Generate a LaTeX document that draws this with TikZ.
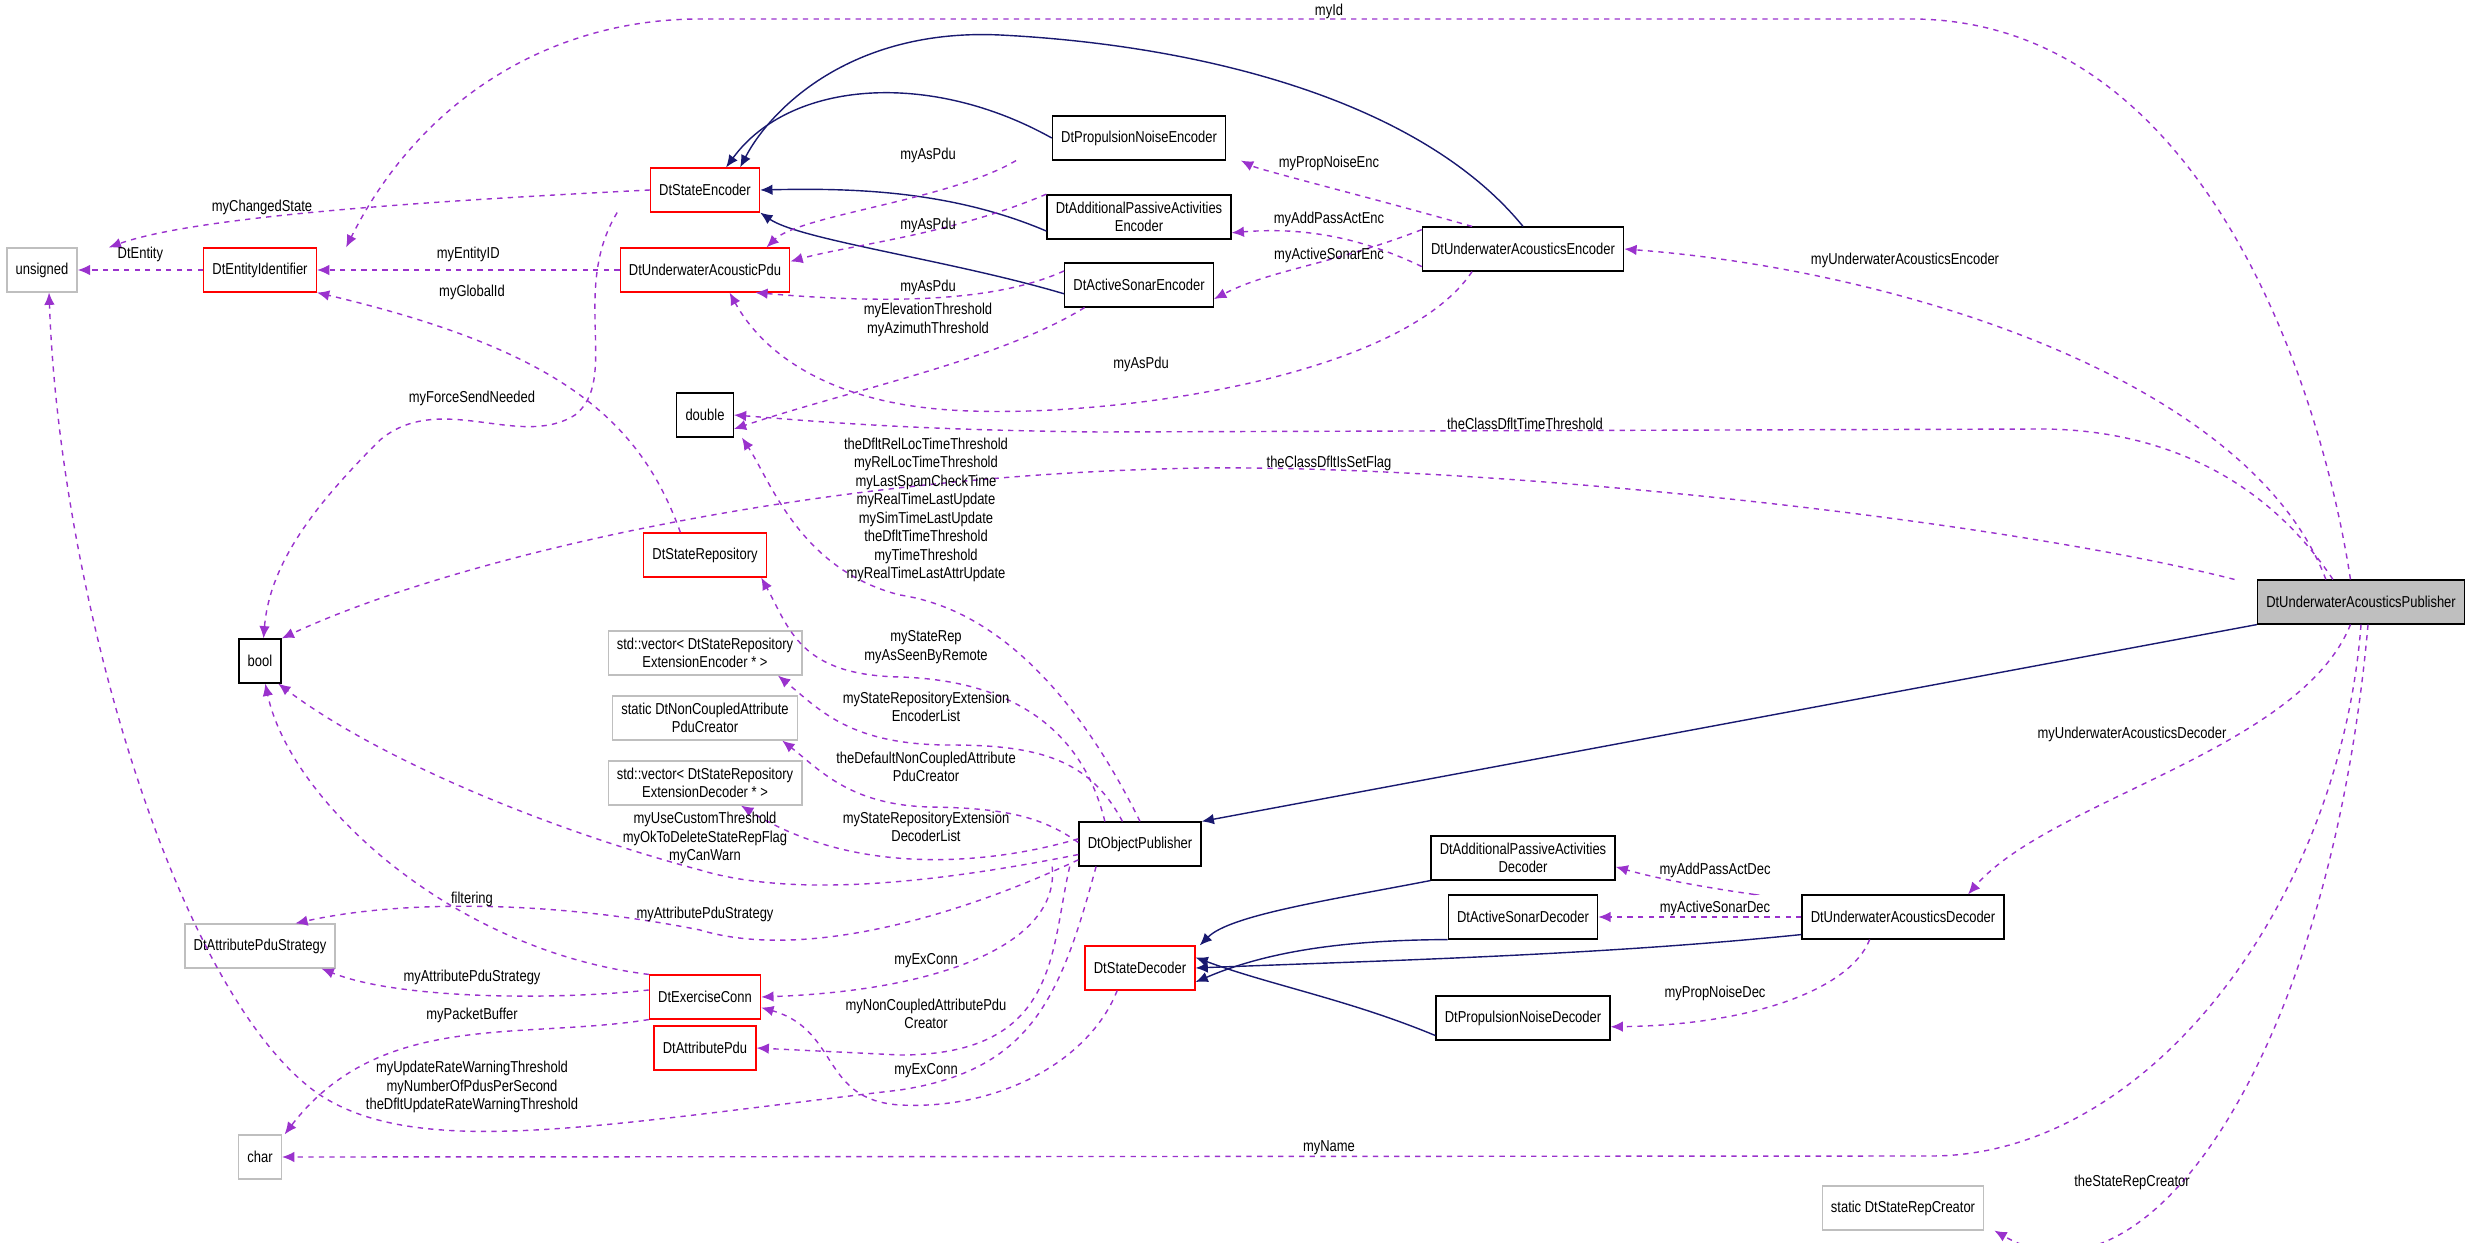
\documentclass[tikz,border=0pt]{standalone}
\usepackage{fontspec}
\setmainfont{Liberation Sans}[FakeStretch=0.82]
\usetikzlibrary{arrows.meta,positioning}
\definecolor{usecol}{HTML}{9A32CD}
\definecolor{inhcol}{HTML}{191970}
\definecolor{extcol}{HTML}{BFBFBF}
\tikzset{
    boxsty/.style={rectangle,minimum height=25,inner xsep=5,inner ysep=2,align=center,font=\fontsize{9}{10.5}\selectfont,line width=0.7pt},
    clssty/.style={boxsty,draw=black},
    redsty/.style={boxsty,draw=red},
    extsty/.style={boxsty,draw=extcol},
    pubsty/.style={boxsty,draw=black,fill=extcol},
    usesty/.style={draw=usecol,line width=0.8pt,dash pattern=on 3pt off 3pt,-{Latex[length=7pt,width=6pt]}},
    inhsty/.style={draw=inhcol,line width=0.8pt,-{Latex[length=7pt,width=6pt]}},
    lblsty/.style={align=center,font=\fontsize{9}{10.5}\selectfont,inner sep=0pt},
}
\begin{document}
\begin{tikzpicture}[x=0.02cm,y=-0.02cm]
  \useasboundingbox (0,0) rectangle (2475,1243);
  % classes
  \node[pubsty] (pub) at (2361,602) {DtUnderwaterAcousticsPublisher};
  \node[extsty] (uns) at (42,270) {unsigned};
  \node[redsty] (eid) at (260,270) {DtEntityIdentifier};
  \node[redsty] (sen) at (705,190) {DtStateEncoder};
  \node[redsty] (uap) at (705,270) {DtUnderwaterAcousticPdu};
  \node[clssty] (dbl) at (705,415) {double};
  \node[redsty] (srep) at (705,555) {DtStateRepository};
  \node[clssty] (pne) at (1139,138) {DtPropulsionNoiseEncoder};
  \node[clssty] (apae) at (1139,217) {DtAdditionalPassiveActivities\\Encoder};
  \node[clssty] (ase) at (1139,285) {DtActiveSonarEncoder};
  \node[clssty] (uae) at (1523,249) {DtUnderwaterAcousticsEncoder};
  \node[clssty] (bool) at (260,661) {bool};
  \node[extsty] (venc) at (705,653) {std::vector\textless{} DtStateRepository\\ExtensionEncoder * \textgreater};
  \node[extsty] (ncap) at (705,718) {static DtNonCoupledAttribute\\PduCreator};
  \node[extsty] (vdec) at (705,783) {std::vector\textless{} DtStateRepository\\ExtensionDecoder * \textgreater};
  \node[extsty] (aps) at (260,946) {DtAttributePduStrategy};
  \node[redsty] (exc) at (705,997) {DtExerciseConn};
  \node[redsty] (apdu) at (705,1048) {DtAttributePdu};
  \node[extsty] (chr) at (260,1157) {char};
  \node[clssty] (opub) at (1140,844) {DtObjectPublisher};
  \node[redsty] (sdec) at (1140,968) {DtStateDecoder};
  \node[clssty] (apad) at (1523,858) {DtAdditionalPassiveActivities\\Decoder};
  \node[clssty] (asd) at (1523,917) {DtActiveSonarDecoder};
  \node[clssty] (uad) at (1903,917) {DtUnderwaterAcousticsDecoder};
  \node[clssty] (pnd) at (1523,1018) {DtPropulsionNoiseDecoder};
  \node[extsty] (src) at (1903,1208) {static DtStateRepCreator};

  % inheritance
  \draw[inhsty] (pub.south west) -- (opub.north east);
  \draw[inhsty] (uae.north) .. controls (1420,100) and (1200,45) .. (1000,35) .. controls (850,28) and (770,110) .. ([xshift=20]sen.north);
  \draw[inhsty] (pne.west) .. controls (930,70) and (790,80) .. ([xshift=12]sen.north);
  \draw[inhsty] ([yshift=-8]apae.west) .. controls (950,190) and (850,188) .. (sen.east);
  \draw[inhsty] ([yshift=-5]ase.west) .. controls (950,260) and (800,240) .. (sen.south east);
  \draw[inhsty] (apad.south west) .. controls (1330,900) and (1230,915) .. ([xshift=34]sdec.north);
  \draw[inhsty] (asd.south west) .. controls (1350,940) and (1270,950) .. ([yshift=-8]sdec.east);
  \draw[inhsty] ([yshift=-10]uad.west) .. controls (1600,955) and (1400,960) .. (sdec.east);
  \draw[inhsty] ([yshift=-10]pnd.west) .. controls (1350,1000) and (1270,985) .. ([yshift=6]sdec.east);

  % publisher members
  \draw[usesty] ([xshift=-6]pub.north) .. controls (2320,380) and (2200,20) .. (1912,19) -- (700,19) .. controls (550,19) and (420,100) .. ([xshift=49]eid.north);
  \draw[usesty] ([xshift=-20]pub.north) .. controls (2250,380) and (1900,270) .. (uae.east);
  \draw[usesty] ([xshift=-16]pub.north) .. controls (2260,470) and (2150,429) .. (2040,429) -- (1100,432) .. controls (900,430) and (800,420) .. (dbl.east);
  \draw[usesty] ([xshift=-72]pub.north) .. controls (2000,520) and (1500,465) .. (1200,468) .. controls (800,475) and (450,560) .. (bool.north east);
  \draw[usesty] ([xshift=-6]pub.south) .. controls (2300,750) and (2050,800) .. ([xshift=37]uad.north);
  \draw[usesty] (pub.south) .. controls (2340,900) and (2150,1156) .. (1931,1156) -- (chr.east);
  \draw[usesty] ([xshift=4]pub.south) .. controls (2330,1050) and (2150,1320) .. ([xshift=52]src.south);

  % encoder members
  \draw[usesty] ([xshift=-29]uae.north) .. controls (1380,200) and (1260,170) .. ([xshift=58]pne.south);
  \draw[usesty] ([yshift=-10]uae.west) .. controls (1350,232) and (1290,228) .. ([yshift=-9]apae.east);
  \draw[usesty] ([yshift=11]uae.west) .. controls (1330,265) and (1270,270) .. ([yshift=-8]ase.east);
  \draw[usesty] ([xshift=-29]uae.south) .. controls (1400,380) and (1100,420) .. (950,410) .. controls (800,400) and (750,330) .. ([xshift=14]uap.south);
  \draw[usesty] ([xshift=-70]pne.south) .. controls (950,200) and (800,215) .. ([xshift=35]uap.north);
  \draw[usesty] ([yshift=13]apae.west) .. controls (950,235) and (850,245) .. ([yshift=-8]uap.north east);
  \draw[usesty] ([yshift=8]ase.west) .. controls (1000,300) and (900,305) .. ([xshift=-20]uap.south east);
  \draw[usesty] ([xshift=-31]ase.south) .. controls (1000,360) and (850,390) .. ([yshift=-8]dbl.east);
  \draw[usesty] (sen.west) .. controls (450,200) and (200,215) .. ([xshift=38]uns.north);
  \draw[usesty] ([xshift=-50]sen.south) .. controls (570,290) and (620,380) .. (575,415) .. controls (520,450) and (440,390) .. (380,440) .. controls (320,500) and (270,560) .. ([xshift=2]bool.north);
  \draw[usesty] (uap.west) -- (eid.east) node[lblsty,pos=0.5,above=4pt] (l_eid) {myEntityID};
  \draw[usesty] (eid.west) -- (uns.east) node[lblsty,pos=0.5,above=4pt] (l_ent) {DtEntity};
  \draw[usesty] ([xshift=-14]srep.north) .. controls (640,420) and (560,350) .. (eid.south east);

  % object publisher members
  \draw[usesty] ([xshift=-25]opub.south) .. controls (1060,1000) and (1030,1070) .. (900,1090) .. controls (600,1125) and (420,1160) .. (320,1095) .. controls (180,1000) and (60,600) .. ([xshift=4]uns.south);
  \draw[usesty] ([xshift=-13]sdec.south) .. controls (1090,1060) and (1000,1110) .. (900,1105) .. controls (820,1100) and (840,1030) .. ([yshift=-6]exc.east);
  \draw[usesty] ([xshift=-50]opub.south) .. controls (1060,940) and (950,990) .. (exc.east);
  \draw[usesty] ([xshift=-40]opub.south) .. controls (1050,950) and (1060,1055) .. (900,1055) -- (apdu.east);
  \draw[usesty] ([yshift=-9]opub.west) .. controls (950,920) and (800,960) .. (700,930) .. controls (550,900) and (400,900) .. ([xshift=-23]aps.north east);
  \draw[usesty] ([yshift=4]exc.west) .. controls (560,1000) and (400,1000) .. ([xshift=35]aps.south);
  \draw[usesty] (exc.north west) .. controls (450,950) and (290,800) .. ([xshift=3]bool.south);
  \draw[usesty] ([yshift=-6]opub.west) .. controls (950,880) and (800,900) .. (700,870) .. controls (550,830) and (380,760) .. ([xshift=-2]bool.south east);
  \draw[usesty] (exc.south west) .. controls (520,1040) and (380,1010) .. ([xshift=14]chr.north);
  \draw[usesty] ([xshift=-20]opub.north) .. controls (1080,720) and (1000,680) .. (900,677) .. controls (800,675) and (790,630) .. ([xshift=32]srep.south);
  \draw[usesty] ([xshift=-10]opub.north) .. controls (1090,760) and (1040,745) .. (950,745) .. controls (850,745) and (820,710) .. ([xshift=-14]venc.south east);
  \draw[usesty] ([yshift=-12]opub.north west) .. controls (1040,815) and (1000,808) .. (930,807) .. controls (850,805) and (820,770) .. ([xshift=-9]ncap.south east);
  \draw[usesty] ([yshift=3]opub.west) .. controls (1000,862) and (860,880) .. ([xshift=-35]vdec.south east);
  \draw[usesty] (opub.north) .. controls (1080,700) and (1000,610) .. (900,595) .. controls (800,570) and (770,480) .. ([xshift=21]dbl.south);

  % decoder members
  \draw[usesty] ([xshift=-85]uad.north) .. controls (1760,895) and (1680,885) .. ([yshift=-5]apad.east);
  \draw[usesty] (uad.west) -- (asd.east);
  \draw[usesty] ([xshift=-19]uad.south) .. controls (1850,990) and (1750,1025) .. ([yshift=-5]pnd.east);

  % labels
  \node[lblsty] (l_id) at (1329,11) {myId};
  \node[lblsty] (l_uae) at (1905,260) {myUnderwaterAcousticsEncoder};
  \node[lblsty] (l_ctt) at (1525,424) {theClassDfltTimeThreshold};
  \node[lblsty] (l_isf) at (1329,463) {theClassDfltIsSetFlag};
  \node[lblsty] (l_uad) at (2132,734) {myUnderwaterAcousticsDecoder};
  \node[lblsty] (l_nam) at (1329,1148) {myName};
  \node[lblsty] (l_src) at (2132,1182) {theStateRepCreator};
  \node[lblsty] (l_pne) at (1329,163) {myPropNoiseEnc};
  \node[lblsty] (l_ape) at (1329,219) {myAddPassActEnc};
  \node[lblsty] (l_ase) at (1329,255) {myActiveSonarEnc};
  \node[lblsty] (l_apu) at (1141,364) {myAsPdu};
  \node[lblsty] (l_ap1) at (928,155) {myAsPdu};
  \node[lblsty] (l_ap2) at (928,225) {myAsPdu};
  \node[lblsty] (l_ap3) at (928,287) {myAsPdu};
  \node[lblsty] (l_elv) at (928,320) {myElevationThreshold\\myAzimuthThreshold};
  \node[lblsty] (l_chs) at (262,207) {myChangedState};
  \node[lblsty] (l_gid) at (472,292) {myGlobalId};
  \node[lblsty] (l_fsn) at (472,398) {myForceSendNeeded};
  \node[lblsty] (l_dbl) at (926,510) {theDfltRelLocTimeThreshold\\myRelLocTimeThreshold\\myLastSpamCheckTime\\myRealTimeLastUpdate\\mySimTimeLastUpdate\\theDfltTimeThreshold\\myTimeThreshold\\myRealTimeLastAttrUpdate};
  \node[lblsty] (l_srp) at (926,647) {myStateRep\\myAsSeenByRemote};
  \node[lblsty] (l_ven) at (926,707) {myStateRepositoryExtension\\EncoderList};
  \node[lblsty] (l_ncp) at (926,767) {theDefaultNonCoupledAttribute\\PduCreator};
  \node[lblsty] (l_vde) at (926,827) {myStateRepositoryExtension\\DecoderList};
  \node[lblsty] (l_bool) at (705,838) {myUseCustomThreshold\\myOkToDeleteStateRepFlag\\myCanWarn};
  \node[lblsty] (l_flt) at (472,899) {filtering};
  \node[lblsty] (l_aps) at (705,914) {myAttributePduStrategy};
  \node[lblsty] (l_ex1) at (926,961) {myExConn};
  \node[lblsty] (l_aps2) at (472,977) {myAttributePduStrategy};
  \node[lblsty] (l_pkb) at (472,1015) {myPacketBuffer};
  \node[lblsty] (l_ncpc) at (926,1014) {myNonCoupledAttributePdu\\Creator};
  \node[lblsty] (l_ex2) at (926,1071) {myExConn};
  \node[lblsty] (l_upd) at (472,1087) {myUpdateRateWarningThreshold\\myNumberOfPdusPerSecond\\theDfltUpdateRateWarningThreshold};
  \node[lblsty] (l_apd) at (1715,870) {myAddPassActDec};
  \node[lblsty] (l_asd) at (1715,908) {myActiveSonarDec};
  \node[lblsty] (l_pnd) at (1715,993) {myPropNoiseDec};
\end{tikzpicture}
\end{document}
